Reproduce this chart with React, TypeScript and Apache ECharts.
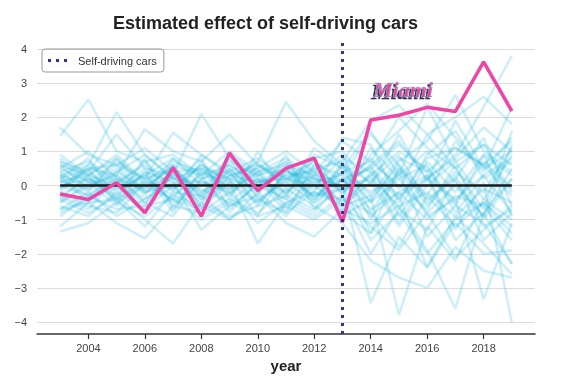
import React, { useEffect, useRef } from "react";
import * as echarts from "echarts";

const years = [2003, 2004, 2005, 2006, 2007, 2008, 2009, 2010, 2011, 2012, 2013, 2014, 2015, 2016, 2017, 2018, 2019];
const xTicks = [2004, 2006, 2008, 2010, 2012, 2014, 2016, 2018];
const treatmentYear = 2013;

const miami = [-0.25, -0.41, 0.08, -0.8, 0.52, -0.9, 0.95, -0.15, 0.5, 0.8, -1.07, 1.92, 2.06, 2.29, 2.17, 3.62, 2.18];

const placebo1 = [1.7, 0.9, 0.6, 1.1, 0.4, 0.5, 0.2, 0.7, 2.45, 1.3, 0.6, -0.3, 0.8, 0.4, 1.1, 0.6, 1.3];
const placebo2 = [1.45, 2.52, 1.0, 0.7, 0.9, 0.3, 0.6, 0.1, 0.5, -0.2, 1.4, 1.2, -0.5, 0.9, 1.6, 0.2, 0.7];
const placebo3 = [0.3, 0.6, 2.15, 0.9, 0.2, 0.5, -0.1, 0.4, 0.6, 0.3, 0.9, -0.8, 0.5, -0.4, 0.2, 1.4, -0.6];
const placebo4 = [-0.2, 0.5, 0.3, 1.65, 1.0, 0.7, 1.5, 0.6, 0.2, 0.7, 0.1, 0.5, 1.2, 0.4, -0.6, 0.9, 0.3];
const placebo5 = [0.5, 0.1, 0.7, 0.2, 1.55, 0.9, 0.3, 0.5, 1.0, 0.4, 1.3, 0.7, 2.0, 1.1, 0.5, -0.7, 1.6];
const placebo6 = [0.7, 0.4, 1.5, 0.5, 0.3, 2.1, 0.8, 0.2, -0.3, 1.1, 0.5, 1.6, 0.3, 2.3, 0.7, 1.2, -0.2];
const placebo7 = [-1.35, -1.1, -0.5, -0.9, -0.3, -0.6, -1.0, -0.4, -0.8, -0.2, -0.4, -0.8, -1.8, -0.3, -1.2, -0.5, -1.4];
const placebo8 = [-1.2, -0.5, -1.1, -1.55, -0.6, -0.8, -0.2, -1.1, -0.5, -0.9, -0.3, -2.0, -0.7, -1.3, 0.2, -1.6, -0.8];
const placebo9 = [-0.4, -0.8, -0.3, -1.0, -1.7, -0.5, -0.9, -0.6, -0.3, -0.7, 0.0, -3.45, -1.5, -2.4, -0.9, -1.7, -2.6];
const placebo10 = [0.2, -0.3, 0.4, -0.1, 0.6, -0.4, 0.1, -1.7, -0.5, -0.2, -0.6, -0.3, -3.8, -1.2, -2.2, -0.4, -1.0];
const placebo11 = [-0.7, -0.2, -0.9, -0.4, 0.1, -1.3, -0.6, -0.3, -1.1, -1.5, -0.7, -1.1, -0.6, -1.9, -3.6, -0.8, -2.3];
const placebo12 = [0.1, 0.4, -0.2, 0.3, -0.5, 0.2, 0.6, 0.0, 0.4, 0.1, 0.3, -1.4, 0.5, -0.9, -0.4, -3.33, -1.1];
const placebo13 = [0.0, -0.3, 0.2, -0.4, 0.3, -0.1, -0.5, 0.2, -0.2, 0.5, -0.1, 0.6, -0.9, 0.3, -1.3, 0.1, -4.02];
const placebo14 = [0.4, 0.7, 0.1, 0.6, -0.2, 0.9, 0.4, 0.8, 0.2, 0.5, 0.7, 1.9, 2.35, 1.5, 2.0, 2.6, 1.8];
const placebo15 = [-0.5, 0.1, -0.6, 0.2, -0.3, 0.3, -0.8, 0.1, -0.4, 0.4, -0.2, 0.9, 1.6, 2.4, 1.4, 0.5, 2.3];
const placebo16 = [0.6, -0.1, 0.5, -0.3, 0.8, 0.0, 0.5, -0.2, 0.6, -0.1, 0.4, -0.5, 0.7, 1.3, 2.65, 1.0, 0.4];
const placebo17 = [-0.3, 0.2, -0.1, 0.5, -0.6, 0.1, -0.2, 0.4, -0.7, 0.2, -0.5, 0.3, -1.1, 0.2, 0.9, 2.3, 3.8];
const placebo18 = [0.9, 0.3, 0.8, -0.2, 0.4, -0.3, 0.9, 0.3, 0.7, -0.4, 0.6, 0.1, 0.9, -0.5, 0.4, -0.2, 1.1];
const placebo19 = [0.2, 0.8, -0.4, 0.1, 0.7, 0.4, -0.3, 0.6, 0.0, 0.8, -0.3, 1.1, 0.2, 0.6, -0.8, 0.3, 0.8];
const placebo20 = [-0.6, -0.9, -0.2, -0.7, 0.0, -0.9, -0.4, -0.8, -0.1, -0.6, -1.1, -2.2, -2.7, -3.0, -1.8, -2.5, -2.7];
const placebo21 = [0.3, 0.0, 0.6, 0.2, 0.5, -0.2, 0.3, 0.6, 0.1, 0.9, 0.5, -0.2, 0.3, 1.0, 0.1, -0.9, 0.5];
const placebo22 = [-0.1, 0.6, 0.0, 0.7, -0.1, 0.6, 0.2, -0.1, 0.7, 0.0, 0.8, 0.4, -0.4, 0.8, 1.1, 0.6, -0.3];
const placebo23 = [0.8, 0.2, -0.3, 0.4, 0.1, -0.5, 0.7, 0.3, -0.2, 0.3, -0.9, -0.4, 0.6, -0.6, 0.3, -1.2, -0.7];
const placebo24 = [-0.8, -0.4, 0.3, -0.5, -0.9, 0.2, -0.6, 0.0, -0.4, -0.8, 0.2, -0.7, -0.2, -1.0, -0.3, -0.6, -1.6];
const placebo25 = [0.5, 1.0, 0.2, -0.1, 0.6, 0.3, 1.0, 0.4, 0.8, 0.2, 0.0, 0.6, 1.3, 0.2, 0.8, 1.7, 1.0];
const placebo26 = [-0.2, -0.6, -0.8, 0.1, -0.4, -0.7, 0.1, -0.5, 0.3, -0.3, -0.1, 0.2, -0.6, -0.2, -0.9, -0.1, -0.5];
const placebo27 = [0.1, -0.1, 0.4, 0.9, 0.2, 0.1, -0.1, 0.3, 0.5, -0.5, 0.2, -0.9, -0.2, 0.3, -1.6, -0.8, 0.2];
const placebo28 = [-0.4, 0.3, -0.5, 0.0, 0.5, -0.2, 0.4, -0.5, 0.2, 0.0, -0.7, 0.4, -0.7, 0.7, -0.2, 0.9, -0.9];
const placebo29 = [0.6, 0.3, 0.9, 0.1, -0.1, 0.6, 0.1, 0.7, -0.1, 0.6, 0.3, 1.5, 0.6, -0.3, 1.3, 0.4, 1.4];
const placebo30 = [-0.9, -0.3, -0.7, -0.6, -0.4, -1.0, -0.5, -0.9, -0.6, -1.0, -0.4, -1.2, -1.9, -0.8, -2.1, -1.3, -0.6];
const placebo31 = [0.0, 0.2, -0.4, 0.8, -0.7, 0.4, 0.0, 0.5, -0.6, 0.3, 0.1, 0.8, -0.1, 1.5, 0.5, 1.2, 0.6];
const placebo32 = [0.3, -0.5, 0.1, -0.5, 0.3, -0.6, 0.5, -0.3, 0.9, -0.7, 0.6, -1.0, 0.4, -1.5, -0.6, -1.1, -2.3];
const placebo33 = [-0.1, 0.5, 0.6, -0.2, 0.0, 0.8, -0.7, 0.1, 0.3, 0.4, -0.6, 0.1, -1.2, 0.0, 0.7, -0.4, 0.9];
const placebo34 = [0.7, 0.1, -0.1, 0.3, 0.8, 0.2, 0.4, -0.6, 0.4, 0.2, 0.0, -1.6, -0.8, -2.0, -1.0, -0.5, -1.2];
const placebo35 = [-0.3, -0.7, 0.2, -0.8, 0.4, -0.3, 0.2, -0.9, 0.5, -0.4, 0.4, 0.7, 0.0, -0.7, 0.6, -1.0, 0.2];
const placebo36 = [0.2, 0.5, -0.5, 0.4, -0.8, 0.5, -0.2, 0.2, -0.8, 0.6, -0.2, 0.3, 1.0, 0.5, -0.5, 0.7, -0.1];
const placebo37 = [-0.5, 0.0, 0.3, -0.2, 0.2, -0.4, 0.8, -0.4, 0.1, -0.5, 0.7, -0.5, 0.2, -0.8, 0.0, -0.9, 1.2];
const placebo38 = [0.4, -0.2, 0.8, 0.0, -0.4, 0.7, -0.4, 1.0, -0.3, 0.8, 1.0, 0.0, 1.5, 0.1, 1.9, 0.5, 1.0];
const placebo39 = [-0.7, -0.5, -0.4, -1.2, -0.2, -0.3, -1.0, -0.2, -0.9, 0.1, -0.8, -1.4, -0.3, -2.4, -1.1, -2.0, -1.9];
const placebo40 = [0.1, 0.3, 0.0, -0.6, 0.6, -0.7, 0.3, 0.1, 0.2, -0.3, 0.2, 0.5, -0.3, 0.2, -0.4, 0.3, -0.8];

const placebos = [
  placebo1, placebo2, placebo3, placebo4, placebo5, placebo6, placebo7, placebo8, placebo9, placebo10,
  placebo11, placebo12, placebo13, placebo14, placebo15, placebo16, placebo17, placebo18, placebo19, placebo20,
  placebo21, placebo22, placebo23, placebo24, placebo25, placebo26, placebo27, placebo28, placebo29, placebo30,
  placebo31, placebo32, placebo33, placebo34, placebo35, placebo36, placebo37, placebo38, placebo39, placebo40,
];

const FONT = "'Liberation Sans', Arial, sans-serif";
const labelPos = [2015.15, 2.8];

export default function App() {
  const ref = useRef<HTMLDivElement>(null);
  useEffect(() => {
    if (!ref.current) return;
    const chart = echarts.init(ref.current, undefined, { renderer: "svg" });
    const pair = (arr: number[]) => arr.map((v, i) => [years[i], v]);
    const placeboSeries = placebos.map((p, k) => ({
      name: "placebo" + k,
      type: "line",
      data: pair(p),
      symbol: "none",
      silent: true,
      clip: false,
      lineStyle: { color: "#1fb6da", width: 2.6, opacity: 0.22 },
      z: 2,
    }));
    chart.setOption({
      animation: false,
      textStyle: { fontFamily: FONT },
      title: {
        text: "Estimated effect of self-driving cars",
        left: 108,
        top: 9,
        textStyle: { fontSize: 18, fontWeight: "bold", color: "#222", fontFamily: FONT },
      },
      legend: {
        data: [
          {
            name: "Self-driving cars",
            icon: "path://M0 0h3v3h-3zM8 0h3v3h-3zM16 0h3v3h-3z",
            itemStyle: { color: "#3d2f80", opacity: 1 },
          },
        ],
        left: 42,
        top: 49,
        orient: "vertical",
        borderColor: "#999",
        borderWidth: 1,
        borderRadius: 3,
        padding: [6, 7, 6, 6],
        itemWidth: 19,
        itemHeight: 3,
        itemGap: 4,
        textStyle: { fontSize: 11, color: "#333", fontFamily: FONT, padding: [0, 0, 0, 6] },
      },
      grid: { left: 37, right: 27, top: 49, bottom: 59 },
      xAxis: {
        type: "value",
        min: 2002.18,
        max: 2019.82,
        offset: 12,
        name: "year",
        nameLocation: "middle",
        nameGap: 22,
        nameTextStyle: { fontSize: 15, fontWeight: "bold", color: "#222", fontFamily: FONT },
        axisLine: { show: true, onZero: false, lineStyle: { color: "#333", width: 1.5 } },
        axisTick: { show: true, length: 5, lineStyle: { color: "#333", width: 1.2 }, customValues: xTicks },
        axisLabel: { fontSize: 11, color: "#444", margin: 8, customValues: xTicks, formatter: (v: number) => String(v) },
        splitLine: { show: false },
      },
      yAxis: {
        type: "value",
        min: -4,
        max: 4,
        interval: 1,
        axisLine: { show: false },
        axisTick: { show: false },
        axisLabel: {
          fontSize: 11,
          color: "#444",
          margin: 10,
          formatter: (v: number) => (v < 0 ? "\u2212" + Math.abs(v) : String(v)),
        },
        splitLine: { show: true, lineStyle: { color: "#dcdcdc", width: 1.2 } },
      },
      series: [
        ...placeboSeries,
        {
          name: "zero",
          type: "line",
          data: [[years[0], 0], [years[years.length - 1], 0]],
          symbol: "none",
          silent: true,
          lineStyle: { color: "#1a1a1a", width: 2.6 },
          z: 3,
        },
        {
          name: "Miami",
          type: "line",
          data: pair(miami),
          symbol: "none",
          silent: true,
          lineStyle: { color: "#ef45a6", width: 3.5 },
          z: 4,
        },
        {
          name: "Self-driving cars",
          type: "line",
          data: [[treatmentYear, -4.35], [treatmentYear, 4.18]],
          symbol: "none",
          clip: false,
          silent: true,
          itemStyle: { color: "#3d2f80" },
          lineStyle: { color: "#3d2f80", width: 3, type: [3, 5] },
          z: 5,
        },
        {
          name: "label",
          type: "scatter",
          data: [labelPos],
          symbolSize: 0,
          silent: true,
          z: 6,
          label: {
            show: true,
            position: "inside",
            formatter: "Miami",
            fontSize: 22,
            fontStyle: "italic",
            fontWeight: "bold",
            fontFamily: "'Liberation Serif', 'DejaVu Serif', serif",
            color: "#ec3f9f",
            textBorderColor: "#6fdcf0",
            textBorderWidth: 0.6,
            textShadowColor: "#10102a",
            textShadowOffsetX: -2,
            textShadowOffsetY: 2,
            textShadowBlur: 0.5,
          },
        },
      ],
    });
    return () => chart.dispose();
  }, []);
  return <div ref={ref} style={{ position: "fixed", left: 0, top: 0, width: 562, height: 381 }} />;
}
